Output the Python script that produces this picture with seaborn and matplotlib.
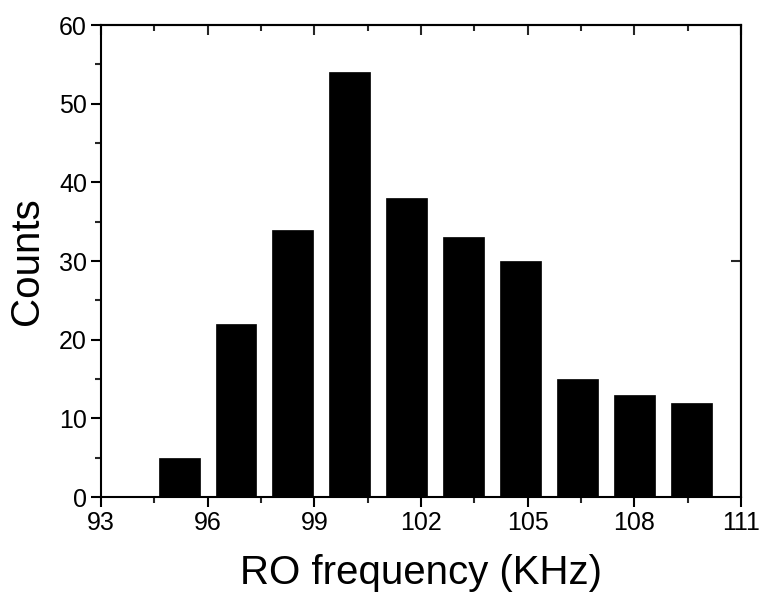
import numpy as np
import pandas as pd
import seaborn as sns
import matplotlib
matplotlib.use("Agg")
import matplotlib.pyplot as plt
from matplotlib.ticker import MultipleLocator

# donnees
centres = [95.2, 96.8, 98.4, 100.0, 101.6, 103.2, 104.8, 106.4, 108.0, 109.6]
comptes = [5, 22, 34, 54, 38, 33, 30, 15, 13, 12]
x_ticks = [93, 96, 99, 102, 105, 108, 111]
y_ticks = [0, 10, 20, 30, 40, 50, 60]

df = pd.DataFrame({"freq": centres, "counts": comptes})

sns.set_style("ticks")
plt.rcParams["font.family"] = ["Liberation Sans", "DejaVu Sans"]
plt.rcParams["text.color"] = "black"
plt.rcParams["axes.labelcolor"] = "black"

fig = plt.figure(figsize=(7.64, 5.96), dpi=100)
ax = fig.add_axes([0.132, 0.166, 0.838, 0.792])

sns.barplot(data=df, x="freq", y="counts", native_scale=True, color="black",
            width=0.72, edgecolor="black", linewidth=0.5, saturation=1, ax=ax)

ax.set_xlim(93, 111)
ax.set_ylim(0, 60)
ax.set_xticks(x_ticks)
ax.set_yticks(y_ticks)
ax.xaxis.set_minor_locator(MultipleLocator(1.5))
ax.yaxis.set_minor_locator(MultipleLocator(5))

ax.set_xlabel("RO frequency (KHz)", fontsize=29, labelpad=14, color="black")
ax.set_ylabel("Counts", fontsize=29, labelpad=9, color="black")

for s in ax.spines.values():
    s.set_visible(True)
    s.set_linewidth(1.5)
    s.set_color("black")

ax.tick_params(axis="both", which="major", direction="out", length=7, width=1.5,
               labelsize=18, colors="black", pad=3)
ax.tick_params(axis="both", which="minor", direction="out", length=4, width=1.5)

# axe du haut : graduations vers l'interieur
top = ax.secondary_xaxis("top")
top.set_xticks(x_ticks)
top.xaxis.set_minor_locator(MultipleLocator(1.5))
top.tick_params(which="major", direction="in", length=7, width=1.5, labeltop=False)
top.tick_params(which="minor", direction="in", length=4, width=1.5)
top.spines["top"].set_linewidth(1.5)

right = ax.secondary_yaxis("right")
right.set_yticks([30])
right.tick_params(direction="in", length=7, width=1.5, labelright=False)
right.spines["right"].set_linewidth(1.5)

fig.savefig("out.png", dpi=100)
